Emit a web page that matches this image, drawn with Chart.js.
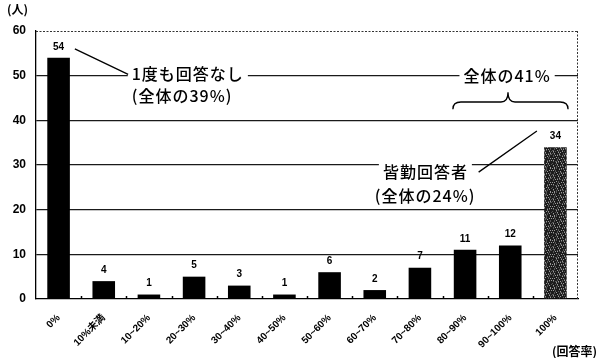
<!DOCTYPE html>
<html><head><meta charset="utf-8">
<script src="https://cdn.jsdelivr.net/npm/chart.js@4/dist/chart.umd.min.js"></script>
<style>html,body{margin:0;padding:0;background:#fff}#wrap{width:599px;height:358px;position:relative}</style>
</head><body><div id="wrap"><canvas id="c"></canvas></div>
<script>
// 回答率別の回答者数
const categories = ['0%','10%未満','10~20%','20~30%','30~40%','40~50%','50~60%','60~70%','70~80%','80~90%','90~100%','100%'];
const respondents = [54, 4, 1, 5, 3, 1, 6, 2, 7, 11, 12, 34];
const yTicks = [0, 10, 20, 30, 40, 50, 60];
const yUnit = '(人)';
const xUnit = '(回答率)';

const JP = '"Noto Sans CJK JP", "Noto Sans", sans-serif';
const NUM = '"Liberation Sans", Arial, "Noto Sans CJK JP", sans-serif';

// stippled fill for the 100% bar (deterministic speckle texture)
function speckle() {
  const n = 24, cv = document.createElement('canvas');
  cv.width = n; cv.height = n;
  const g = cv.getContext('2d');
  g.fillStyle = '#1c1c1c'; g.fillRect(0, 0, n, n);
  for (let y = 0; y < n; y++) for (let x = 0; x < n; x++) {
    let h = Math.imul(x * 374761393 + y * 668265263, 1274126177) >>> 0;
    h = (h ^ (h >>> 13)) & 15;
    if (h < 2) { g.fillStyle = '#9a9a9a'; g.fillRect(x, y, 1, 1); }
    else if (h < 5) { g.fillStyle = '#555'; g.fillRect(x, y, 1, 1); }
  }
  return g.createPattern(cv, 'repeat');
}
const ctx0 = document.getElementById('c').getContext('2d');
const pat = speckle();
const barColors = respondents.map((v, i) => i === respondents.length - 1 ? pat : '#000');

const notes = {
  id: 'notes',
  afterDatasetsDraw(chart) {
    const c = chart.ctx, x = chart.scales.x, y = chart.scales.y, a = chart.chartArea;
    const px = i => x.getPixelForValue(i), py = v => y.getPixelForValue(v);
    c.save();

    // dashed top and right frame
    c.strokeStyle = '#333'; c.lineWidth = 1; c.setLineDash([2, 1.5]);
    c.beginPath();
    c.moveTo(a.left, a.top + 0.5); c.lineTo(a.right, a.top + 0.5);
    c.moveTo(a.right - 0.5, a.top); c.lineTo(a.right - 0.5, a.bottom);
    c.stroke(); c.setLineDash([]);

    // small inward ticks between categories
    c.strokeStyle = '#000'; c.lineWidth = 1.5;
    for (let i = 1; i < categories.length; i++) {
      const bx = Math.round(px(i - 0.5)) + 0.5;
      c.beginPath(); c.moveTo(bx, a.bottom); c.lineTo(bx, a.bottom - 3); c.stroke();
    }

    // value labels
    c.fillStyle = '#000'; c.font = 'bold 10px ' + NUM;
    c.textAlign = 'center'; c.textBaseline = 'bottom';
    const meta = chart.getDatasetMeta(0);
    meta.data.forEach((bar, i) => c.fillText(String(respondents[i]), bar.x, bar.y - 6));

    // text with white backing so gridlines do not run through it
    const label = (t, xi, v, align, back) => {
      c.font = '500 16px ' + JP; c.letterSpacing = '1px';
      c.textAlign = align; c.textBaseline = 'middle';
      const w = c.measureText(t).width;
      const tx = px(xi), ty = py(v);
      const left = align === 'center' ? tx - w / 2 : tx;
      if (back) { c.fillStyle = '#fff'; c.fillRect(left - 4, ty - 10, w + 8, 20); }
      c.fillStyle = '#000'; c.fillText(t, tx, ty);
      c.letterSpacing = '0px';
    };
    label('1度も回答なし', 1.62, 50.3, 'left', true);
    label('(全体の39%)', 1.62, 45.4, 'left', false);
    label('全体の41%', 9.93, 49.9, 'center', true);
    label('皆勤回答者', 7.18, 28.4, 'left', true);
    label('(全体の24%)', 7.0, 23.1, 'left', false);

    // leader lines
    c.strokeStyle = '#000'; c.lineWidth = 1.3;
    c.beginPath();
    c.moveTo(px(0.36), py(56.0)); c.lineTo(px(1.54), py(50.3));
    c.moveTo(px(9.3), py(28.4)); c.lineTo(px(10.59), py(37.6));
    c.stroke();

    // brace over the 80% and above groups
    const x0 = px(8.73), x1 = px(11.28), xm = px(9.95);
    const yEnd = py(42.5), yArm = py(44.1), yPk = py(46.3);
    c.beginPath();
    c.moveTo(x0, yEnd); c.quadraticCurveTo(x0, yArm, x0 + 8, yArm);
    c.lineTo(xm - 7, yArm); c.quadraticCurveTo(xm, yArm, xm, yPk);
    c.quadraticCurveTo(xm, yArm, xm + 7, yArm);
    c.lineTo(x1 - 8, yArm); c.quadraticCurveTo(x1, yArm, x1, yEnd);
    c.stroke();

    // axis units
    c.fillStyle = '#000'; c.font = 'bold 12px ' + JP; c.textBaseline = 'middle';
    c.textAlign = 'left'; c.fillText(yUnit, 7, 9);
    c.textAlign = 'right'; c.fillText(xUnit, 597, 351);
    c.restore();
  }
};

new Chart(ctx0, {
  type: 'bar',
  data: {
    labels: categories,
    datasets: [{ data: respondents, backgroundColor: barColors, borderWidth: 0,
      barPercentage: 0.5, categoryPercentage: 1.0 }]
  },
  options: {
    responsive: true, maintainAspectRatio: false, animation: false,
    devicePixelRatio: 1,
    layout: { padding: { top: 31, right: 21, left: 0, bottom: 0 } },
    plugins: { legend: { display: false }, tooltip: { enabled: false } },
    scales: {
      x: {
        afterFit(s) { s.height = 59; },
        grid: { display: false },
        border: { display: true, color: '#000', width: 1.3 },
        ticks: { maxRotation: 45, minRotation: 45, padding: 5, color: '#000',
          font: { family: NUM, size: 10, weight: 'bold' } }
      },
      y: {
        min: 0, max: 60,
        afterFit(s) { s.width = 36; },
        afterBuildTicks(s) { s.ticks = yTicks.map(v => ({ value: v })); },
        grid: { drawTicks: false, lineWidth: 1.3,
          color: t => (t.tick && (t.tick.value === 60 || t.tick.value === 0)) ? 'rgba(0,0,0,0)' : '#1a1a1a' },
        border: { display: true, color: '#000', width: 1.3 },
        ticks: { padding: 10, color: '#000', font: { family: NUM, size: 12, weight: 'bold' } }
      }
    }
  },
  plugins: [notes]
});
</script></body></html>
